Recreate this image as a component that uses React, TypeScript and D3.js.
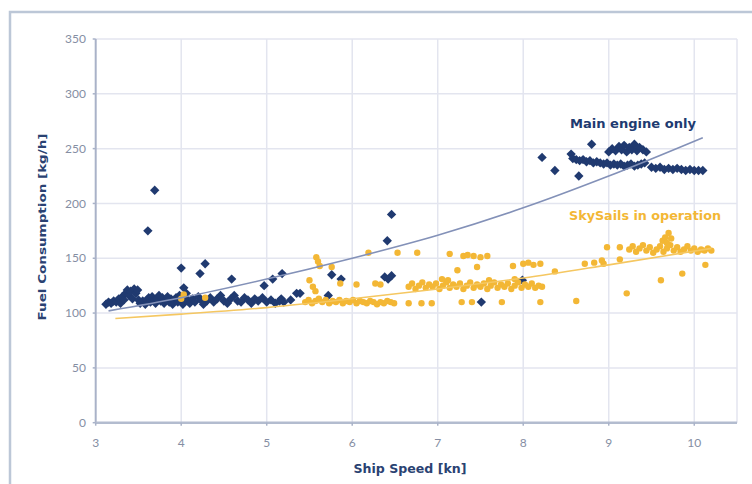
import * as d3 from 'd3';

const xTicks = [3, 4, 5, 6, 7, 8, 9, 10];
const yTicks = [0, 50, 100, 150, 200, 250, 300, 350];

// Main engine only (kn, kg/h)
const mainEngine: [number, number][] = [
  [3.12, 108], [3.15, 110], [3.18, 109], [3.21, 111], [3.24, 110], [3.27, 113], [3.29, 109], [3.31, 115],
  [3.33, 112], [3.35, 118], [3.37, 121], [3.39, 116], [3.41, 120], [3.43, 113], [3.45, 122], [3.47, 118],
  [3.49, 121], [3.5, 112], [3.52, 109], [3.55, 111], [3.58, 108], [3.6, 112], [3.62, 114], [3.64, 110],
  [3.66, 115], [3.68, 112], [3.7, 109], [3.72, 113], [3.74, 116], [3.76, 111], [3.78, 114], [3.8, 109],
  [3.82, 112], [3.84, 115], [3.86, 110], [3.88, 113], [3.9, 108], [3.92, 112], [3.94, 114], [3.96, 110],
  [3.98, 116], [4.0, 112], [4.02, 108], [4.04, 115], [4.06, 118], [4.08, 111], [4.1, 109], [4.13, 113],
  [4.16, 110], [4.2, 115], [4.23, 112], [4.26, 108], [4.3, 111], [4.34, 114], [4.38, 110], [4.42, 113],
  [4.46, 116], [4.5, 111], [4.54, 109], [4.58, 113], [4.62, 116], [4.66, 111], [4.7, 110], [4.74, 114],
  [4.78, 112], [4.82, 109], [4.86, 113], [4.9, 111], [4.95, 114], [5.0, 110], [5.05, 112], [5.1, 109],
  [5.15, 111], [5.2, 110], [5.28, 112],
  [3.69, 212], [3.61, 175], [4.0, 141], [4.28, 145], [4.22, 136], [4.59, 131], [4.97, 125], [5.07, 131],
  [5.18, 136], [5.35, 118], [5.17, 113], [4.03, 123],
  [5.39, 118], [5.72, 116], [5.76, 135], [5.87, 131], [6.38, 133], [6.42, 131], [6.46, 134], [6.41, 166],
  [6.46, 190], [7.51, 110], [7.99, 130],
  [8.22, 242], [8.37, 230], [8.56, 245], [8.65, 225], [8.8, 254],
  [8.58, 241], [8.62, 240], [8.66, 239], [8.7, 240], [8.74, 238], [8.78, 239], [8.82, 237], [8.86, 238],
  [8.9, 237], [8.94, 236], [8.98, 237], [9.02, 235], [9.06, 236], [9.1, 235], [9.14, 236], [9.18, 234],
  [9.22, 235], [9.26, 236], [9.3, 234], [9.34, 235], [9.38, 236], [9.42, 237],
  [9.0, 247], [9.04, 250], [9.08, 248], [9.12, 252], [9.15, 249], [9.18, 253], [9.21, 247], [9.24, 251],
  [9.27, 249], [9.3, 254], [9.33, 248], [9.36, 251], [9.4, 249], [9.44, 247],
  [9.5, 233], [9.55, 232], [9.6, 233], [9.65, 231], [9.7, 232], [9.75, 231], [9.8, 232], [9.85, 231],
  [9.9, 230], [9.95, 231], [10.0, 230], [10.05, 230], [10.1, 230],
];

// SkySails in operation (kn, kg/h)
const skySails: [number, number][] = [
  [4.0, 113], [4.03, 117], [4.28, 114],
  [5.58, 151], [5.6, 147], [5.62, 143], [5.76, 142], [5.5, 130], [5.54, 124], [5.57, 120],
  [5.45, 110], [5.49, 112], [5.53, 109], [5.57, 111], [5.61, 113], [5.65, 110], [5.69, 112], [5.73, 109],
  [5.77, 111], [5.81, 110], [5.85, 112], [5.89, 109], [5.93, 111], [5.97, 110], [6.01, 112], [6.05, 109],
  [6.09, 111], [6.13, 110], [6.17, 109], [6.21, 111], [6.25, 110], [6.29, 108], [6.33, 110], [6.37, 109],
  [6.41, 111], [6.45, 110], [6.49, 109],
  [5.86, 127], [6.05, 126], [6.27, 127], [6.33, 126], [6.19, 155], [6.53, 155], [6.76, 155],
  [6.66, 124], [6.7, 127], [6.74, 122], [6.78, 125], [6.82, 128], [6.86, 123], [6.9, 126], [6.94, 124],
  [6.98, 127], [7.02, 122], [7.06, 125], [7.1, 128], [7.14, 123], [7.18, 126], [7.22, 124], [7.26, 127],
  [7.3, 122], [7.34, 125], [7.38, 128], [7.42, 123], [7.46, 126], [7.5, 124], [7.54, 127], [7.58, 122],
  [7.62, 125], [7.66, 128], [7.7, 123], [7.74, 126], [7.78, 124], [7.82, 127], [7.86, 122], [7.9, 125],
  [7.94, 128], [7.98, 123], [8.02, 126], [8.06, 124], [8.1, 127], [8.14, 123], [8.18, 125], [8.22, 124],
  [7.05, 131], [7.12, 130], [7.6, 130], [7.9, 131],
  [7.14, 154], [7.3, 152], [7.35, 153], [7.42, 152], [7.5, 151], [7.58, 152], [7.23, 139], [7.46, 142],
  [7.88, 143], [8.0, 145], [8.06, 146], [8.12, 144], [8.2, 145], [8.37, 138],
  [6.66, 109], [6.81, 109], [6.93, 109], [7.28, 110], [7.4, 110], [7.75, 110], [8.2, 110], [8.62, 111],
  [9.21, 118], [9.61, 130], [9.86, 136], [10.13, 144],
  [8.72, 145], [8.83, 146], [8.94, 145], [8.92, 148], [9.13, 149], [8.98, 160], [9.13, 160],
  [9.24, 158], [9.28, 161], [9.32, 156], [9.36, 159], [9.4, 162], [9.44, 157], [9.48, 160], [9.52, 155],
  [9.56, 158], [9.6, 161], [9.64, 156], [9.68, 159], [9.72, 162], [9.76, 157], [9.8, 160], [9.84, 156],
  [9.88, 158], [9.92, 161], [9.96, 157], [10.0, 159], [10.04, 156], [10.08, 158], [10.12, 157], [10.16, 159],
  [10.2, 157],
  [9.63, 166], [9.66, 169], [9.7, 173], [9.73, 168], [9.68, 164],
];

// trend lines
const mainTrend: [number, number][] = [
  [3.15, 102], [4, 114], [5, 131], [6, 150], [7, 171], [8, 196], [9, 225], [10.1, 260],
];
const skyTrend: [number, number][] = [
  [3.23, 95], [4, 99], [5, 105], [6, 113], [7, 122], [8, 132], [9, 144], [10.2, 159],
];

const NAVY = '#203a70';
const GOLD = '#f3b735';

export default function App() {
  const width = 752;
  const height = 484;
  const x = d3.scaleLinear().domain([3, 10.5]).range([95.7, 737]);
  const y = d3.scaleLinear().domain([0, 350]).range([422.7, 39]);

  const line = d3.line<[number, number]>()
    .x(d => x(d[0]))
    .y(d => y(d[1]))
    .curve(d3.curveMonotoneX);

  const diamond = d3.symbol().type(d3.symbolDiamond2).size(56)() as string;

  const font = 'Lato, "Open Sans", sans-serif';
  const bold = '"DejaVu Sans", Verdana, sans-serif';

  return (
    <svg width={width} height={height} style={{ position: 'absolute', left: 0, top: 0, background: '#fff' }}>
      <rect x={10} y={12} width={780} height={520} fill="none" stroke="#bcc7d7" strokeWidth={2.5} />

      {/* grid */}
      {yTicks.filter(t => t > 0).map(t => (
        <line key={'gy' + t} x1={x(3)} x2={x(10.5)} y1={y(t)} y2={y(t)} stroke="#e3e5ef" strokeWidth={1.5} />
      ))}
      {xTicks.filter(t => t > 3).map(t => (
        <line key={'gx' + t} x1={x(t)} x2={x(t)} y1={y(0)} y2={y(350)} stroke="#e3e5ef" strokeWidth={1.5} />
      ))}
      <line x1={x(10.5)} x2={x(10.5)} y1={y(0)} y2={y(350)} stroke="#e3e5ef" strokeWidth={1.5} />

      {/* axes */}
      <line x1={x(3)} x2={x(3)} y1={y(0)} y2={y(350)} stroke="#a9b2c8" strokeWidth={2} />
      <line x1={x(3)} x2={x(10.5)} y1={y(0)} y2={y(0)} stroke="#b3bccf" strokeWidth={2.5} />
      {yTicks.map(t => (
        <g key={'ty' + t}>
          <line x1={x(3) - 3} x2={x(3)} y1={y(t)} y2={y(t)} stroke="#a9b2c8" strokeWidth={1.5} />
          <text x={86} y={y(t)} dy="0.35em" textAnchor="end" fontFamily={font} fontSize={12} fill="#858ea3">{t}</text>
        </g>
      ))}
      {xTicks.map(t => (
        <g key={'tx' + t}>
          <line x1={x(t)} x2={x(t)} y1={y(0)} y2={y(0) + 3} stroke="#a9b2c8" strokeWidth={1.5} />
          <text x={x(t)} y={443} dy="0.35em" textAnchor="middle" fontFamily={font} fontSize={12} fill="#858ea3">{t}</text>
        </g>
      ))}

      {/* points */}
      {mainEngine.map((d, i) => (
        <path key={'m' + i} d={diamond} transform={`translate(${x(d[0])},${y(d[1])})`} fill={NAVY} />
      ))}
      {skySails.map((d, i) => (
        <circle key={'s' + i} cx={x(d[0])} cy={y(d[1])} r={3.2} fill={GOLD} />
      ))}

      {/* trends */}
      <path d={line(mainTrend) as string} fill="none" stroke="#8391b8" strokeWidth={1.6} />
      <path d={line(skyTrend) as string} fill="none" stroke="#f5c761" strokeWidth={1.6} />

      {/* labels */}
      <text x={633} y={128} textAnchor="middle" fontFamily={bold} fontWeight={700} fontSize={12}
        textLength={126} lengthAdjust="spacingAndGlyphs" fill={NAVY}>Main engine only</text>
      <text x={645} y={220} textAnchor="middle" fontFamily={bold} fontWeight={700} fontSize={12}
        textLength={152} lengthAdjust="spacingAndGlyphs" fill={GOLD}>SkySails in operation</text>
      <text x={410} y={469} dy="0.35em" textAnchor="middle" fontFamily={bold} fontWeight={700} fontSize={11.5}
        textLength={113} lengthAdjust="spacingAndGlyphs" fill="#2a4272">Ship Speed [kn]</text>
      <text transform={`translate(42,227) rotate(-90)`} dy="0.35em" textAnchor="middle" fontFamily={bold}
        fontWeight={700} fontSize={11} textLength={187} lengthAdjust="spacingAndGlyphs" fill="#2a4272">Fuel Consumption [kg/h]</text>
    </svg>
  );
}
